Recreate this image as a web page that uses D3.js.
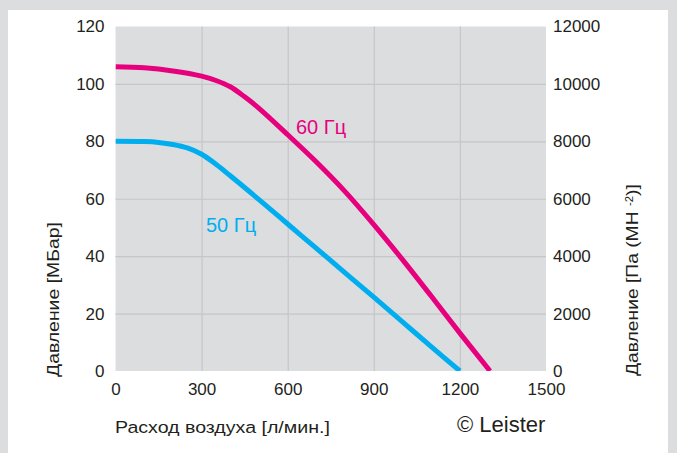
<!DOCTYPE html>
<html><head><meta charset="utf-8">
<script src="https://cdn.jsdelivr.net/npm/d3@7"></script>
<style>
html,body{margin:0;padding:0;background:#dcdddf;}
svg{display:block;}
text{font-family:"Liberation Sans",Arial,Helvetica,sans-serif;fill:#231f20;}
</style></head>
<body><svg id="c" width="677" height="453"></svg>
<script>
const flowTicks = [0,300,600,900,1200,1500];
const mbarTicks = [0,20,40,60,80,100,120];
const paTicks = [0,2000,4000,6000,8000,10000,12000];
const flow60 = [0,100,200,300,350,400,450,500,600,700,800,900,1000,1100,1200,1305];
const pres60 = [106,105.6,104.5,102.7,101.2,99,95.5,91.5,82.3,72.8,62.5,51,38.8,26.1,13.2,0];
const flow50 = [0,100,150,200,250,300,350,400,500,600,700,800,900,1000,1100,1200];
const pres50 = [80,79.9,79.6,78.9,77.7,75.5,72,68,59.7,51.2,42.7,34.2,25.7,17.1,8.5,0];
const seriesNames = ["60 Гц","50 Гц"];
const seriesColors = ["#e6007e","#00aeef"];

const svg = d3.select("#c");
svg.append("rect").attr("x",8).attr("y",10).attr("width",660).attr("height",443).attr("fill","#ffffff");

const L=115.5, R=546, T=26.5, B=371;
const x = d3.scaleLinear().domain([0,1500]).range([L,R]);
const y = d3.scaleLinear().domain([0,120]).range([B,T]);
const y2 = d3.scaleLinear().domain([0,12000]).range([B,T]);
const fmt = d3.format("d");

svg.append("rect").attr("x",L).attr("y",T).attr("width",R-L).attr("height",B-T).attr("fill","#dcdddf");

const gx = svg.append("g").attr("transform",`translate(0,${B})`)
  .call(d3.axisBottom(x).tickValues(flowTicks.slice(1,-1)).tickSize(-(B-T)).tickFormat(""));
gx.select(".domain").remove();
gx.selectAll("line").attr("stroke","#c5c6c8").attr("stroke-width",1.2);
const gy = svg.append("g").attr("transform",`translate(${L},0)`)
  .call(d3.axisLeft(y).tickValues(mbarTicks.slice(1,-1)).tickSize(-(R-L)).tickFormat(""));
gy.select(".domain").remove();
gy.selectAll("line").attr("stroke","#c5c6c8").attr("stroke-width",1.2);

const ax = svg.append("g").attr("transform",`translate(0,${B})`)
  .call(d3.axisBottom(x).tickValues(flowTicks).tickFormat(fmt).tickSize(0).tickPadding(12));
ax.select(".domain").remove();
ax.selectAll("text").attr("font-size",17).attr("fill","#231f20");

const ay = svg.append("g").attr("transform",`translate(${L},0)`)
  .call(d3.axisLeft(y).tickValues(mbarTicks).tickFormat(fmt).tickSize(0).tickPadding(11));
ay.select(".domain").remove();
ay.selectAll("text").attr("font-size",17).attr("fill","#231f20");

const ay2 = svg.append("g").attr("transform",`translate(${R},0)`)
  .call(d3.axisRight(y2).tickValues(paTicks).tickFormat(fmt).tickSize(0).tickPadding(7));
ay2.select(".domain").remove();
ay2.selectAll("text").attr("font-size",17).attr("fill","#231f20");

svg.append("clipPath").attr("id","pc").append("rect").attr("x",L).attr("y",T).attr("width",R-L).attr("height",B-T);
const line = d3.line().x(d=>x(d[0])).y(d=>y(d[1])).curve(d3.curveCatmullRom.alpha(0.5));
const data = [d3.zip(flow60,pres60), d3.zip(flow50,pres50)];
data.forEach((d,i)=>{
  svg.append("path").datum(d).attr("d",line).attr("fill","none")
    .attr("stroke",seriesColors[i]).attr("stroke-width",5).attr("clip-path","url(#pc)");
});
svg.append("text").attr("x",296).attr("y",133.5).attr("font-size",20).style("fill",seriesColors[0]).text(seriesNames[0]);
svg.append("text").attr("x",206).attr("y",231.5).attr("font-size",20).style("fill",seriesColors[1]).text(seriesNames[1]);

function fit(sel, px, py, rot, target){
  const len = sel.node().getComputedTextLength();
  sel.attr("transform",`translate(${px},${py}) rotate(${rot}) scale(${target/len},1)`);
}
const t1 = svg.append("text").attr("font-size",17).text("Давление [МБар]");
fit(t1,59,377,-90,155);
const t2 = svg.append("text").attr("font-size",17);
t2.append("tspan").text("Давление [Па (МН ");
t2.append("tspan").attr("font-size",10).attr("dy",-5).text("-2");
t2.append("tspan").attr("dy",5).text(")]");
fit(t2,638,376,-90,192);
const t3 = svg.append("text").attr("font-size",17).text("Расход воздуха [л/мин.]");
fit(t3,115,433,0,215);
svg.append("text").attr("x",457).attr("y",432).attr("font-size",22).text("© Leister");
</script></body></html>
